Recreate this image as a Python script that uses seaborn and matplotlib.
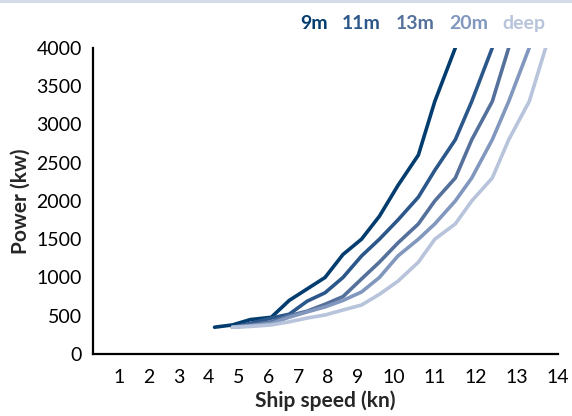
import numpy as np
import pandas as pd
import matplotlib
matplotlib.use("Agg")
import matplotlib.pyplot as plt
import seaborn as sns

# speed grid (knots, against the printed labels)
speed = [4.2, 4.8, 5.4, 6.1, 6.7, 7.3, 7.9, 8.5, 9.1, 9.6,
         10.1, 10.6, 11.0, 11.5, 11.9, 12.4, 12.8, 13.3, 13.7]

depths = ["9m", "11m", "13m", "20m", "deep"]
first_point = [0, 1, 1, 1, 1]   # index into speed where each series starts

power_9m = [350, 380, 450, 480, 700, 850, 1000, 1300, 1500, 1800, 2200, 2600, 3300, 4000]
power_11m = [350, 400, 470, 520, 690, 800, 1000, 1280, 1500, 1750, 2050, 2400, 2800, 3300, 4000]
power_13m = [350, 380, 420, 500, 560, 650, 750, 980, 1200, 1450, 1700, 2000, 2300, 2800, 3300, 4000]
power_20m = [350, 370, 400, 480, 550, 615, 700, 810, 1000, 1280, 1500, 1700, 2000, 2300, 2800, 3300, 4000]
power_deep = [350, 360, 380, 420, 470, 510, 575, 640, 780, 950, 1200, 1500, 1700, 2000, 2300, 2800, 3300, 4000]

colors = ["#033c6e", "#2c578a", "#54709b", "#8197bd", "#b8c4db"]

x_ticks = list(range(1, 15))
y_ticks = list(range(0, 4001, 500))

#%%
rows = []
for name, start, vals in zip(depths, first_point,
                             [power_9m, power_11m, power_13m, power_20m, power_deep]):
    for sp, pw in zip(speed[start:], vals):
        rows.append({"depth": name, "speed": sp, "power": pw})
df = pd.DataFrame(rows)

# the printed knot labels are not evenly spaced (wider above 9 kn)
scale_knots = [0, 9, 10, 14, 15]
scale_pos = [0, 9, 10.2, 15.7, 17.075]

def fwd(x):
    return np.interp(x, scale_knots, scale_pos)

def inv(u):
    return np.interp(u, scale_pos, scale_knots)

#%%
sns.set_style("white")
plt.rcParams["font.family"] = ["Lato", "DejaVu Sans"]

fig = plt.figure(figsize=(5.72, 4.16), dpi=100)
ax = fig.add_axes([0.1626, 0.149, 0.8129, 0.736])

sns.lineplot(data=df, x="speed", y="power", hue="depth", hue_order=depths,
             palette=colors, linewidth=2.6, legend=False, ax=ax)

ax.set_xscale("function", functions=(fwd, inv))
ax.set_xlim(0.13, 14)
ax.set_ylim(0, 4000)
ax.set_xticks(x_ticks)
ax.set_xticklabels([str(t) for t in x_ticks])
ax.set_yticks(y_ticks)
ax.tick_params(axis="both", length=0, labelsize=14, colors="black")
ax.tick_params(axis="y", pad=8)
ax.tick_params(axis="x", pad=11)
ax.xaxis.set_minor_locator(plt.NullLocator())

for side in ["top", "right"]:
    ax.spines[side].set_visible(False)
for side in ["left", "bottom"]:
    ax.spines[side].set_color("black")
    ax.spines[side].set_linewidth(1.6)

ax.set_xlabel("Ship speed (kn)", fontsize=15, fontweight="bold", labelpad=3)
ax.set_ylabel("Power (kw)", fontsize=15, fontweight="bold", labelpad=4)

# text-only legend in series colours
handles = ax.get_lines()[:len(depths)]
leg = ax.legend(handles, depths, ncol=5, frameon=False, handlelength=0,
                handletextpad=0, columnspacing=0.75, loc="lower right",
                bbox_to_anchor=(0.99, 1.025), borderaxespad=0,
                prop={"weight": "bold", "size": 14})
for txt, c in zip(leg.get_texts(), colors):
    txt.set_color(c)
for h in leg.legend_handles:
    h.set_visible(False)

# thin band along the top edge
fig.add_artist(plt.Rectangle((0, 0.992), 1, 0.008, transform=fig.transFigure,
                             color="#d5dbe7", lw=0))

fig.savefig("out.png", dpi=100)
